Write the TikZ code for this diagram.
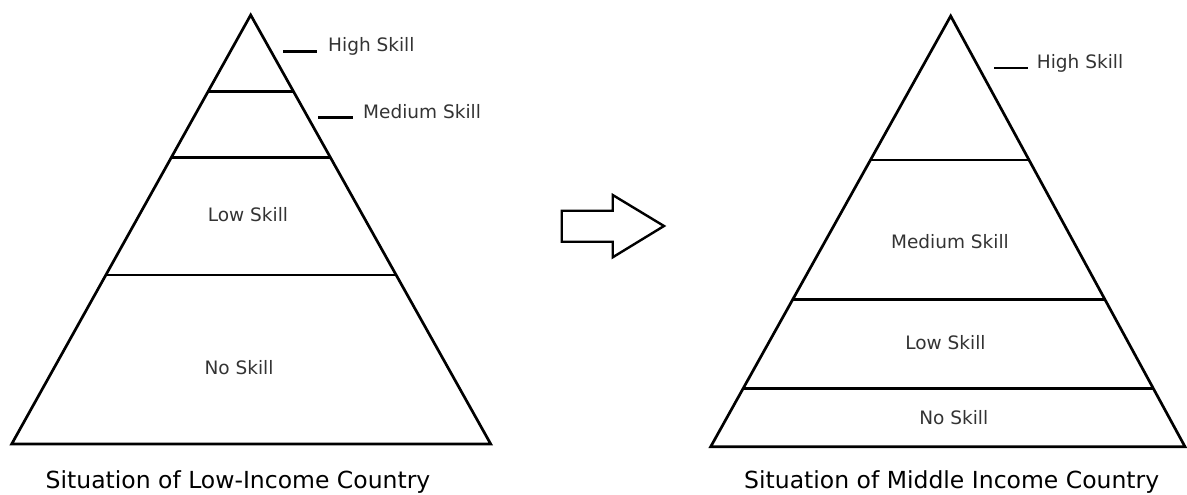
\documentclass[tikz,border=0pt]{standalone}
\usepackage{fontspec}
\setmainfont{DejaVu Sans}
\usetikzlibrary{calc}
\begin{document}
\begin{tikzpicture}[x=1pt,y=-1pt,
  edge/.style={line width=2.7pt,line join=miter},
  band/.style={line width=2.7pt},
  tick/.style={line width=2.4pt},
  lbl/.style={font=\fontsize{18.5}{20}\selectfont,text=black!80,inner sep=0pt},
  ttl/.style={font=\fontsize{23.5}{26}\selectfont,text=black,inner sep=0pt},
  arrowshape/.style={line width=2.4pt,line join=miter}]
\useasboundingbox (0,0) rectangle (1187,495);
% left pyramid
\coordinate (LA) at (250.7,15);
\coordinate (LL) at (11.7,444);
\coordinate (LR) at (490.7,444);
\draw[edge] (LA) -- (LL) -- (LR) -- cycle;
\foreach \f in {0.1788,0.3326,0.6061}
  \draw[band] ($(LA)!\f!(LL)$) -- ($(LA)!\f!(LR)$);
\node[lbl,anchor=west] (lhigh) at (328,46.5) {High Skill};
\node[lbl,anchor=west] (lmed) at (363,111.5) {Medium Skill};
\coordinate (lht) at (283,51.7);
\coordinate (lmt) at (318,117.3);
\draw[tick] (lht) -- ++(34,0);
\draw[tick] (lmt) -- ++(35,0);
\node[lbl] (llow) at (248,215) {Low Skill};
\node[lbl] (lno) at (239,367.7) {No Skill};
\node[ttl] (ltitle) at (238,482) {Situation of Low-Income Country};
% arrow
\draw[arrowshape] (561.7,210.7) -- (612.7,210.7) -- (612.7,195) -- (664,226)
  -- (612.7,257.3) -- (612.7,241.7) -- (561.7,241.7) -- cycle;
% right pyramid
\coordinate (RA) at (950.7,16);
\coordinate (RL) at (710.7,446.7);
\coordinate (RR) at (1185,446.7);
\draw[edge] (RA) -- (RL) -- (RR) -- cycle;
\foreach \f in {0.3343,0.6578,0.8644}
  \draw[band] ($(RA)!\f!(RL)$) -- ($(RA)!\f!(RR)$);
\node[lbl,anchor=west] (rhigh) at (1036.7,63) {High Skill};
\coordinate (rht) at (994,68.3);
\draw[tick] (rht) -- ++(34.3,0);
\node[lbl] (rmed) at (950,241.7) {Medium Skill};
\node[lbl] (rlow) at (945.5,342.3) {Low Skill};
\node[lbl] (rno) at (953.8,417.7) {No Skill};
\node[ttl] (rtitle) at (951.7,482) {Situation of Middle Income Country};
\end{tikzpicture}
\end{document}
